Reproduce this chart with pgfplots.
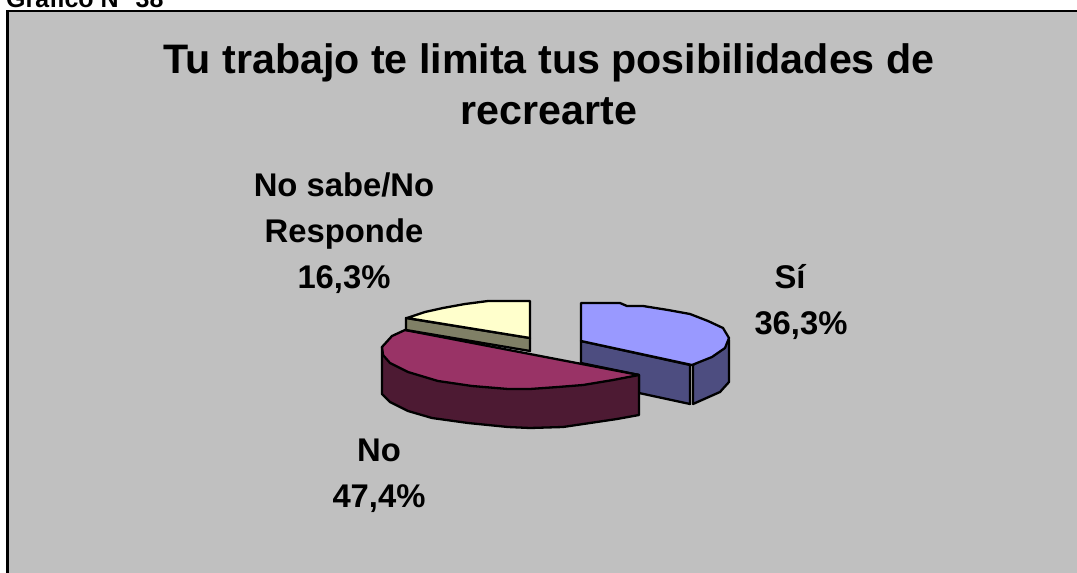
\documentclass[border=0pt]{standalone}
\usepackage{fontspec}
\setmainfont{Liberation Sans}
\usepackage{pgfplots}
\pgfplotsset{compat=1.18}
\definecolor{panel}{HTML}{C0C0C0}
\definecolor{blueTop}{HTML}{9999FF}
\definecolor{blueSide}{HTML}{4D4D80}
\definecolor{wineTop}{HTML}{993366}
\definecolor{wineSide}{HTML}{4D1A33}
\definecolor{creamTop}{HTML}{FFFFCC}
\definecolor{creamSide}{HTML}{808066}
\begin{document}
\begin{tikzpicture}
\begin{axis}[
    scale only axis, width=1077pt, height=573pt,
    xmin=0, xmax=1077, ymin=0, ymax=573, y dir=reverse,
    hide axis, clip=true,
    every axis plot/.append style={draw=black, line width=2.3pt, line join=round},
]
% white page, so the picture keeps its full size
\addplot[fill=white, draw=none] coordinates {(0,0) (1077,0) (1077,573) (0,573)} --cycle;
% panel and its two visible edges (the picture crops the rest)
\addplot[fill=panel, draw=none] coordinates {(8,11) (1077,11) (1077,573) (8,573)} --cycle;
\addplot[fill=black, draw=none] coordinates {(6,9.5) (1077,9.5) (1077,12) (6,12)} --cycle;
\addplot[fill=black, draw=none] coordinates {(6,9.5) (9,9.5) (9,573) (6,573)} --cycle;
% blue slice sides
\addplot[fill=blueSide] coordinates {(581,341) (581,363) (639,375) (639,393) (690,404) (690,365)} --cycle;
\addplot[fill=blueSide] coordinates {(693,365) (729,340) (729,382) (720,392) (693,404)} --cycle;
% blue slice top
\addplot[fill=blueTop] coordinates {(581,303) (620,303) (627,306) (643,306) (668,310) (690,314) (708,321) (723,328) (729,338) (725,348) (712,357) (692,365) (581,341)} --cycle;
% wine slice side
\addplot[fill=wineSide] coordinates {(382,347) (382,394) (390,402) (408,411) (432,418) (468,423) (508,427) (530,428) (563,427) (590,423) (617,419) (639,415) (639,375)} --cycle;
% wine slice top
\addplot[fill=wineTop] coordinates {(405,330) (392,336) (382,347) (383,355) (390,363) (408,372) (438,381) (472,386) (508,389) (530,389) (558,387) (583,385) (613,380) (639,375)} --cycle;
% cream slice side
\addplot[fill=creamSide] coordinates {(406,318) (406,330) (530,351) (530,338)} --cycle;
% cream slice top
\addplot[fill=creamTop] coordinates {(530,301) (488,301) (465,304) (443,308) (425,312) (407,318) (530,338)} --cycle;
% texts
\node[font=\bfseries\fontsize{41.2}{51}\selectfont, align=center] at (axis cs:549,84) {Tu trabajo te limita tus posibilidades de\\recrearte};
\node[font=\bfseries\fontsize{32.8}{46}\selectfont, align=center] at (axis cs:344,233.5) {No sabe/No\\Responde\\16,3\%};
\node[font=\bfseries\fontsize{32.8}{46}\selectfont, align=center] at (axis cs:801,302) {Sí\hspace*{22pt}\\36,3\%};
\node[font=\bfseries\fontsize{32.8}{46}\selectfont, align=center] at (axis cs:379,475.5) {No\\47,4\%};
\node[overlay, font=\bfseries\fontsize{25}{28}\selectfont, anchor=base west, inner sep=0pt] at (axis cs:6,7) {Gráfico N° 38};
\end{axis}
\end{tikzpicture}
\end{document}
